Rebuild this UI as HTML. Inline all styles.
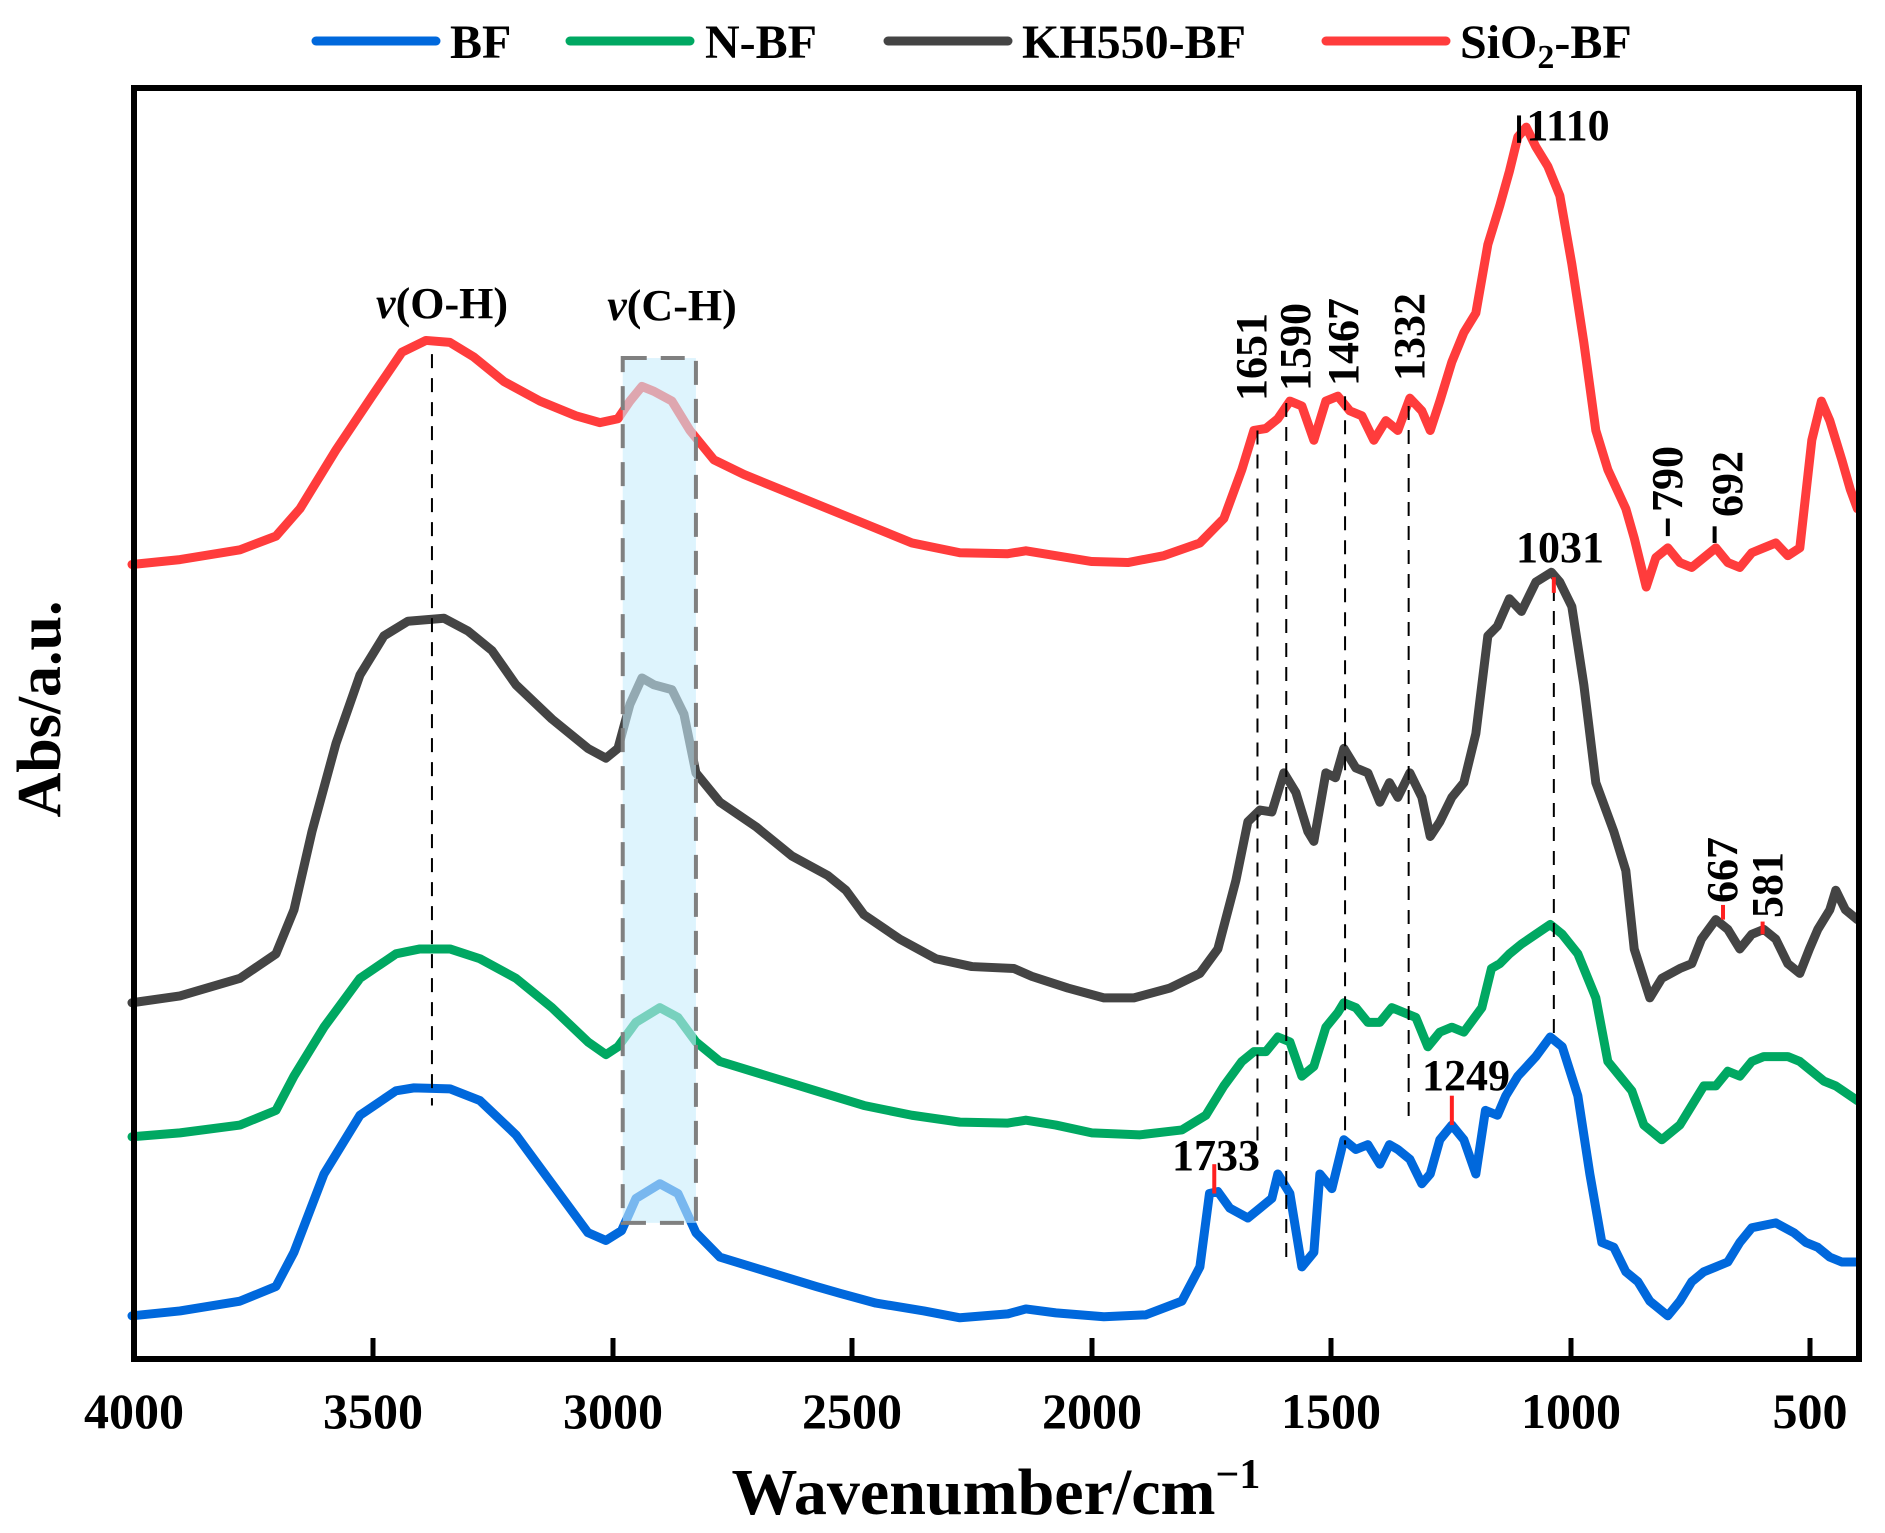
<!DOCTYPE html>
<html><head><meta charset="utf-8"><style>
html,body{margin:0;padding:0;background:#fff;}
#wrap{position:relative;width:1885px;height:1533px;overflow:hidden;}
svg{position:absolute;left:0;top:0;}
text{font-family:"Liberation Serif",serif;font-weight:bold;fill:#000;}
</style></head><body><div id="wrap">
<svg width="1885" height="1533" viewBox="0 0 1571 1567" preserveAspectRatio="none">
<g fill="none" stroke-width="9" stroke-linejoin="round" stroke-linecap="round">
<polyline vector-effect="non-scaling-stroke" stroke="#ff3c3c" points="110,577 150,572 200,562 230,548 250,520 280,460 310,405 335,360 355,348 375,350 395,365 420,390 450,410 480,425 500,432 515,428 525,410 535,395 545,400 560,410 575,440 595,470 620,485 660,505 700,525 720,535 760,555 800,565 840,566 855,563 880,568 910,574 940,575 970,568 1000,555 1020,530 1035,480 1045,440 1055,438 1065,428 1075,410 1085,415 1095,450 1105,410 1115,405 1125,420 1135,425 1145,450 1155,430 1165,440 1175,407 1185,420 1192,440 1200,410 1210,370 1220,340 1230,320 1240,250 1250,210 1258,175 1265,140 1272,130 1280,150 1290,170 1300,200 1310,270 1320,350 1330,440 1340,480 1355,520 1362,550 1372,600 1380,570 1390,560 1400,575 1410,580 1420,570 1430,560 1440,575 1450,580 1460,565 1470,560 1480,555 1490,568 1500,560 1510,450 1518,410 1525,430 1535,470 1542,500 1548,520"/>
<polyline vector-effect="non-scaling-stroke" stroke="#444" points="110,1025 150,1018 200,1000 230,975 245,930 260,850 280,760 300,690 320,650 340,635 370,632 390,645 410,665 430,700 460,735 490,765 505,775 515,765 525,720 535,693 545,700 560,705 570,730 580,790 600,820 630,845 660,875 690,895 705,910 720,935 750,960 780,980 810,988 845,990 860,998 890,1010 920,1020 945,1020 975,1010 1000,995 1015,970 1030,900 1040,840 1050,828 1060,830 1070,790 1080,810 1090,850 1095,860 1105,790 1113,795 1120,765 1130,785 1140,790 1150,820 1158,800 1165,815 1175,790 1185,815 1192,855 1200,840 1210,815 1220,800 1230,750 1240,650 1248,640 1258,612 1268,625 1280,595 1293,585 1300,595 1310,620 1320,700 1330,800 1345,850 1355,890 1362,970 1375,1020 1385,1000 1400,990 1410,985 1418,960 1430,940 1440,950 1450,970 1460,955 1470,950 1480,960 1490,985 1500,995 1508,970 1515,950 1525,930 1530,910 1538,930 1548,940"/>
<polyline vector-effect="non-scaling-stroke" stroke="#00a862" points="110,1162 150,1158 200,1150 230,1135 245,1100 270,1050 300,1000 330,975 350,970 375,970 400,980 430,1000 460,1030 490,1065 505,1078 515,1070 530,1045 550,1030 565,1040 580,1065 600,1085 640,1100 680,1115 720,1130 760,1140 800,1147 840,1148 855,1145 880,1150 910,1158 950,1160 985,1155 1005,1140 1020,1110 1035,1085 1045,1075 1055,1075 1065,1060 1075,1065 1085,1100 1095,1090 1105,1050 1115,1035 1120,1025 1130,1030 1140,1045 1150,1045 1160,1030 1170,1035 1180,1040 1190,1070 1200,1055 1210,1050 1220,1055 1235,1030 1243,990 1250,985 1258,975 1268,965 1280,955 1292,945 1302,955 1315,975 1330,1020 1340,1085 1350,1100 1360,1115 1370,1150 1385,1165 1400,1150 1410,1130 1420,1110 1430,1110 1440,1095 1450,1100 1460,1085 1470,1080 1490,1080 1500,1085 1510,1095 1520,1105 1530,1110 1548,1125"/>
<polyline vector-effect="non-scaling-stroke" stroke="#0068dc" points="110,1345 150,1340 200,1330 230,1315 245,1280 270,1200 300,1140 330,1115 345,1112 375,1113 400,1125 430,1160 460,1210 490,1260 505,1268 518,1258 530,1225 550,1210 565,1220 580,1260 600,1285 640,1300 680,1315 700,1322 730,1332 770,1340 800,1347 840,1343 855,1338 880,1342 920,1346 955,1344 985,1330 1000,1295 1008,1220 1015,1218 1025,1235 1040,1245 1050,1235 1060,1225 1065,1200 1075,1220 1085,1295 1095,1280 1100,1200 1110,1215 1120,1165 1130,1175 1140,1170 1150,1190 1158,1170 1165,1175 1175,1185 1185,1210 1192,1200 1200,1165 1210,1150 1220,1165 1230,1200 1238,1135 1248,1140 1255,1120 1265,1100 1280,1080 1292,1060 1302,1070 1315,1120 1325,1200 1335,1270 1345,1275 1355,1300 1365,1310 1375,1330 1390,1345 1400,1330 1410,1310 1420,1300 1430,1295 1440,1290 1450,1270 1460,1255 1480,1250 1495,1260 1505,1270 1515,1275 1525,1285 1535,1290 1548,1290"/>
</g>
<rect x="519" y="366" width="61" height="884" fill="#c8ecfc" fill-opacity="0.6" stroke="#808080" stroke-width="4" stroke-dasharray="24,14" vector-effect="non-scaling-stroke"/>
<g stroke="#000" stroke-width="2" stroke-dasharray="14,10">
<line vector-effect="non-scaling-stroke" x1="360" y1="362" x2="360" y2="1130"/>
<line vector-effect="non-scaling-stroke" x1="1048" y1="440" x2="1048" y2="1175"/>
<line vector-effect="non-scaling-stroke" x1="1072" y1="412" x2="1072" y2="1290"/>
<line vector-effect="non-scaling-stroke" x1="1121" y1="405" x2="1121" y2="1170"/>
<line vector-effect="non-scaling-stroke" x1="1174" y1="415" x2="1174" y2="1150"/>
<line vector-effect="non-scaling-stroke" x1="1295" y1="600" x2="1295" y2="1065"/>
</g>
<g stroke-width="4">
<line vector-effect="non-scaling-stroke" stroke="#ff2020" x1="1012" y1="1190" x2="1012" y2="1220"/>
<line vector-effect="non-scaling-stroke" stroke="#ff2020" x1="1210" y1="1120" x2="1210" y2="1150"/>
<line vector-effect="non-scaling-stroke" stroke="#ff2020" x1="1295" y1="590" x2="1295" y2="606"/>
<line vector-effect="non-scaling-stroke" stroke="#ff2020" x1="1436" y1="925" x2="1436" y2="940"/>
<line vector-effect="non-scaling-stroke" stroke="#ff2020" x1="1469" y1="942" x2="1469" y2="955"/>
<line vector-effect="non-scaling-stroke" stroke="#000" x1="1266" y1="118" x2="1266" y2="146"/>
<line vector-effect="non-scaling-stroke" stroke="#000" x1="1390" y1="530" x2="1390" y2="548"/>
<line vector-effect="non-scaling-stroke" stroke="#000" x1="1429" y1="538" x2="1429" y2="555"/>
</g>
</svg>
<svg width="1885" height="1533" viewBox="0 0 1885 1533">
<rect x="134" y="88" width="1725" height="1271" fill="none" stroke="#000" stroke-width="6"/>
<g stroke="#000" stroke-width="5">
<line x1="373" y1="1359" x2="373" y2="1338"/><line x1="613" y1="1359" x2="613" y2="1338"/>
<line x1="852" y1="1359" x2="852" y2="1338"/><line x1="1092" y1="1359" x2="1092" y2="1338"/>
<line x1="1331" y1="1359" x2="1331" y2="1338"/><line x1="1571" y1="1359" x2="1571" y2="1338"/>
<line x1="1810" y1="1359" x2="1810" y2="1338"/>
</g>
<g font-size="50" text-anchor="middle">
<text x="134" y="1428">4000</text><text x="373" y="1428">3500</text><text x="613" y="1428">3000</text>
<text x="852" y="1428">2500</text><text x="1092" y="1428">2000</text><text x="1331" y="1428">1500</text>
<text x="1571" y="1428">1000</text><text x="1810" y="1428">500</text>
</g>
<text x="996" y="1514" font-size="66" text-anchor="middle">Wavenumber/cm<tspan dy="-26" font-size="42">−1</tspan></text>
<text transform="translate(60,709) rotate(-90)" font-size="62" text-anchor="middle">Abs/a.u.</text>
<g stroke-width="9" stroke-linecap="round">
<line x1="316" y1="41" x2="436" y2="41" stroke="#0068dc"/>
<line x1="570" y1="41" x2="690" y2="41" stroke="#00a862"/>
<line x1="888" y1="41" x2="1008" y2="41" stroke="#444"/>
<line x1="1326" y1="41" x2="1446" y2="41" stroke="#ff3c3c"/>
</g>
<g font-size="48">
<text x="450" y="58">BF</text><text x="705" y="58">N-BF</text>
<text x="1022" y="58">KH550-BF</text>
<text x="1460" y="58">SiO<tspan dy="10" font-size="34">2</tspan><tspan dy="-10">-BF</tspan></text>
</g>
<g font-size="44" text-anchor="middle">
<text x="442" y="318"><tspan font-style="italic">v</tspan>(O-H)</text>
<text x="672" y="320"><tspan font-style="italic">v</tspan>(C-H)</text>
<text x="1568" y="140">1110</text>
<text x="1560" y="562">1031</text>
<text x="1216" y="1170">1733</text>
<text x="1466" y="1090">1249</text>
</g>
<g font-size="44" text-anchor="middle">
<text transform="translate(1266,357) rotate(-90)">1651</text>
<text transform="translate(1310,347) rotate(-90)">1590</text>
<text transform="translate(1358,342) rotate(-90)">1467</text>
<text transform="translate(1424,337) rotate(-90)">1332</text>
<text transform="translate(1682,479) rotate(-90)">790</text>
<text transform="translate(1742,484) rotate(-90)">692</text>
<text transform="translate(1737,870) rotate(-90)">667</text>
<text transform="translate(1782,885) rotate(-90)">581</text>
</g>
</svg>
</div></body></html>
